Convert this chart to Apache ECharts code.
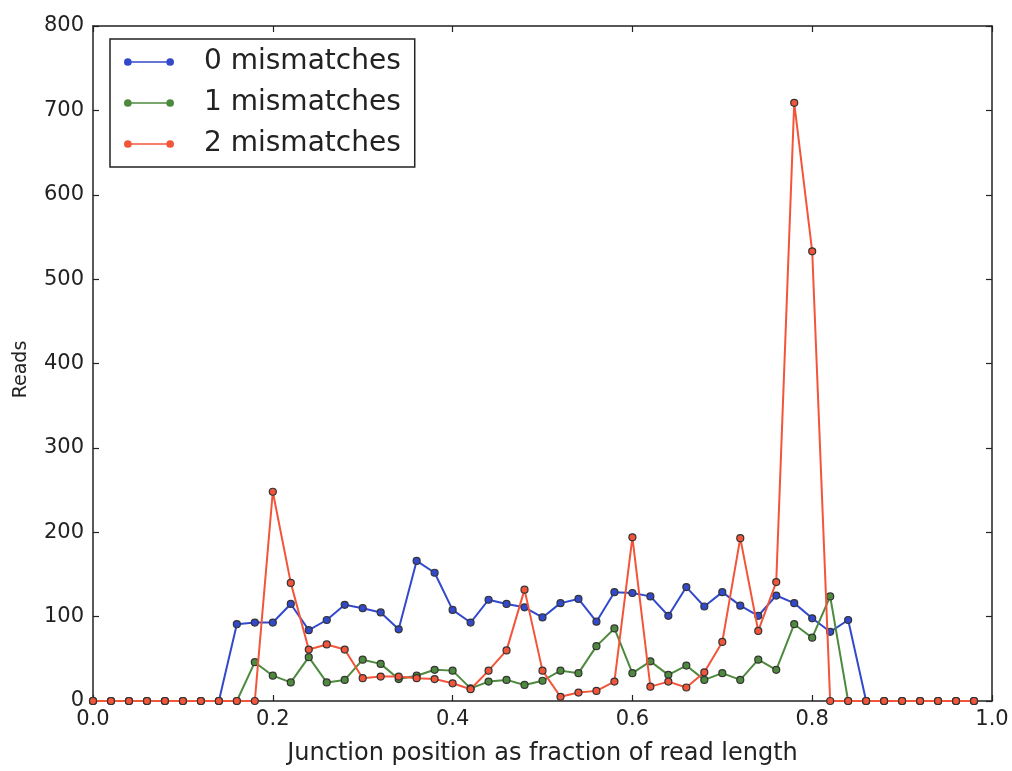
<!DOCTYPE html>
<html>
<head>
<meta charset="utf-8">
<script src="https://cdn.jsdelivr.net/npm/echarts@6/dist/echarts.min.js"></script>
<style>
    html, body { margin: 0; padding: 0; background: #fff; }
    #chart { width: 1012px; height: 771px; }
</style>
</head>
<body>
<div id="chart"></div>
<script>
// junction position, fraction of read length
const positions = [
    0.00, 0.02, 0.04, 0.06, 0.08, 0.10, 0.12, 0.14, 0.16, 0.18,
    0.20, 0.22, 0.24, 0.26, 0.28, 0.30, 0.32, 0.34, 0.36, 0.38,
    0.40, 0.42, 0.44, 0.46, 0.48, 0.50, 0.52, 0.54, 0.56, 0.58,
    0.60, 0.62, 0.64, 0.66, 0.68, 0.70, 0.72, 0.74, 0.76, 0.78,
    0.80, 0.82, 0.84, 0.86, 0.88, 0.90, 0.92, 0.94, 0.96, 0.98
];

// reads, 0 mismatches
const mismatch0 = [
    0, 0, 0, 0, 0, 0, 0, 0, 91, 93,
    93, 115, 84, 96, 114, 110, 105, 85, 166, 152,
    108, 93, 120, 115, 111, 99, 116, 121, 94, 129,
    128, 124, 101, 135, 112, 129, 113, 101, 125, 116,
    98, 82, 96, 0, 0, 0, 0, 0, 0, 0
];

// reads, 1 mismatches
const mismatch1 = [
    0, 0, 0, 0, 0, 0, 0, 0, 0, 46,
    30, 22, 52, 22, 25, 49, 44, 26, 30, 37,
    36, 15, 23, 25, 19, 24, 36, 33, 65, 86,
    33, 47, 31, 42, 25, 33, 25, 49, 37, 91,
    75, 124, 0, 0, 0, 0, 0, 0, 0, 0
];

// reads, 2 mismatches
const mismatch2 = [
    0, 0, 0, 0, 0, 0, 0, 0, 0, 0,
    248, 140, 61, 67, 61, 27, 29, 29, 27, 26,
    21, 14, 36, 60, 132, 36, 5, 10, 12, 23,
    194, 17, 23, 16, 34, 70, 193, 83, 141, 709,
    533, 0, 0, 0, 0, 0, 0, 0, 0, 0
];

const series_names = ['0 mismatches', '1 mismatches', '2 mismatches'];
const series_colors = ['#3249cc', '#4e8a3e', '#f2553a'];

const font = 'DejaVu Sans';
const ink = '#222';

// line with a dot at each end, like the matplotlib legend handle
const legend_icon = 'path://M0,4A4,4 0 1,1 8,4A4,4 0 1,1 0,4Z'
    + 'M7,3.3L45,3.3L45,4.7L7,4.7Z'
    + 'M44,4A4,4 0 1,1 52,4A4,4 0 1,1 44,4Z';

function pairs(values) {
    return positions.map((x, i) => [x, values[i]]);
}

let chart = echarts.init(document.getElementById('chart'));

let series = [mismatch0, mismatch1, mismatch2].map((values, i) => ({
    name: series_names[i],
    type: 'line',
    data: pairs(values),
    symbol: 'circle',
    symbolSize: 7,
    showAllSymbol: true,
    z: 2 + i,
    lineStyle: {color: series_colors[i], width: 2},
    itemStyle: {color: series_colors[i], borderColor: '#333', borderWidth: 1.2},
    emphasis: {disabled: true},
    animation: false
}));

let axis_line = {show: true, onZero: false, lineStyle: {color: ink, width: 1.5}};
let axis_tick = {show: true, inside: true, length: 6, lineStyle: {color: ink, width: 1.2}};

let option = {
    backgroundColor: '#fff',
    animation: false,
    grid: {left: 93, right: 20, top: 26, bottom: 58, containLabel: false},
    legend: {
        orient: 'vertical',
        left: 110,
        top: 39,
        data: series_names,
        icon: legend_icon,
        itemWidth: 50,
        itemHeight: 8,
        itemGap: 13,
        padding: [9, 14, 9, 14],
        borderColor: ink,
        borderWidth: 1.5,
        backgroundColor: '#fff',
        itemStyle: {borderWidth: 0},
        textStyle: {fontFamily: font, fontSize: 28, color: ink, padding: [0, 0, 0, 25]}
    },
    xAxis: [{
        type: 'value',
        min: 0,
        max: 1,
        interval: 0.2,
        name: 'Junction position as fraction of read length',
        nameLocation: 'middle',
        nameGap: 41,
        nameTextStyle: {fontFamily: font, fontSize: 24, color: ink},
        axisLine: axis_line,
        axisTick: axis_tick,
        splitLine: {show: false},
        axisLabel: {
            fontFamily: font, fontSize: 21, color: ink, margin: 8,
            formatter: v => v.toFixed(1)
        }
    }, {
        type: 'value',
        position: 'top',
        min: 0,
        max: 1,
        interval: 0.2,
        axisLine: axis_line,
        axisTick: axis_tick,
        splitLine: {show: false},
        axisLabel: {show: false}
    }],
    yAxis: [{
        type: 'value',
        min: 0,
        max: 800,
        interval: 100,
        name: 'Reads',
        nameLocation: 'middle',
        nameGap: 62,
        nameTextStyle: {fontFamily: font, fontSize: 19, color: ink, padding: [0, 12, 0, 0]},
        axisLine: axis_line,
        axisTick: axis_tick,
        splitLine: {show: false},
        axisLabel: {fontFamily: font, fontSize: 21, color: ink, margin: 9}
    }, {
        type: 'value',
        position: 'right',
        min: 0,
        max: 800,
        interval: 100,
        axisLine: axis_line,
        axisTick: axis_tick,
        splitLine: {show: false},
        axisLabel: {show: false}
    }],
    series: series
};

chart.setOption(option);
</script>
</body>
</html>
